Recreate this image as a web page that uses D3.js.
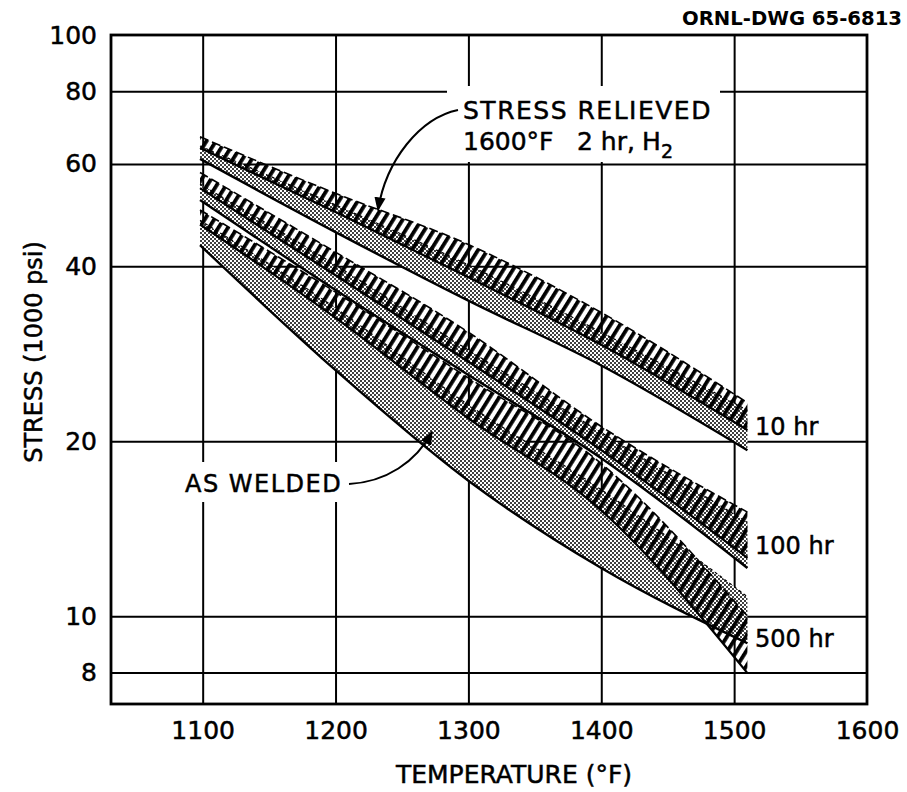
<!DOCTYPE html>
<html>
<head>
<meta charset="utf-8">
<script src="https://cdn.jsdelivr.net/npm/d3@7"></script>
<style>
body { margin: 0; background: #fff; }
svg text { font-family: "DejaVu Sans", sans-serif; fill: #000; stroke: #000; stroke-width: 0.5px; }
</style>
</head>
<body>
<script>
// stress (1000 psi), at these temperatures (F)
var temps = [1098, 1200, 1300, 1400, 1510];

// 10 hr
var sr10Hi = [66.8, 53.4, 43.6, 33.3, 23.3];
var sr10Lo = [63.9, 49.6, 38.3, 29.3, 20.9];
var aw10Hi = [64.4, 51.0, 40.2, 30.8, 22.6];
var aw10Lo = [61.2, 45.8, 34.9, 27.0, 19.3];
// 100 hr
var sr100Hi = [58.0, 42.3, 30.8, 21.2, 15.1];
var sr100Lo = [54.5, 38.6, 27.4, 19.3, 12.6];
var aw100Hi = [55.4, 40.2, 28.7, 20.7, 14.5];
var aw100Lo = [52.0, 36.4, 26.0, 18.7, 12.1];
// 500 hr
var sr500Hi = [50.0, 36.1, 25.7, 18.3, 10.0];
var sr500Lo = [47.2, 32.6, 21.9, 15.2, 7.98];
var aw500Hi = [48.0, 33.9, 23.1, 16.5, 10.8];
var aw500Lo = [43.5, 26.5, 17.1, 12.1, 8.98];

var groupNames = ["10 hr", "100 hr", "500 hr"];
var xTicks = [1100, 1200, 1300, 1400, 1500, 1600];
var yTicks = [8, 10, 20, 40, 60, 80, 100];
var xGrid = [1100, 1200, 1300, 1400, 1500];
var yGrid = [8, 10, 20, 40, 60, 80];

var W = 907, H = 792;
var plotL = 111, plotR = 867, plotT = 35, plotB = 704;

var x = d3.scaleLinear().domain([1031, 1600]).range([plotL, plotR]);
var y = d3.scaleLog().domain([7.06, 100]).range([plotB, plotT]);

var svg = d3.select("body").append("svg")
    .attr("width", W)
    .attr("height", H);

var defs = svg.append("defs");

// diagonal hatching = stress relieved
var hatch = defs.append("pattern")
    .attr("id", "hatch")
    .attr("patternUnits", "userSpaceOnUse")
    .attr("width", 8)
    .attr("height", 10)
    .attr("patternTransform", "rotate(32)");
hatch.append("rect")
    .attr("width", 3.8)
    .attr("height", 10)
    .attr("fill", "#000");

// stipple = as welded
var dots = defs.append("pattern")
    .attr("id", "dots")
    .attr("patternUnits", "userSpaceOnUse")
    .attr("width", 4)
    .attr("height", 4);
dots.append("rect").attr("width", 4).attr("height", 4).attr("fill", "#fff");
dots.append("circle").attr("cx", 1).attr("cy", 1).attr("r", 1).attr("fill", "#000");
dots.append("circle").attr("cx", 3).attr("cy", 3).attr("r", 1).attr("fill", "#000");

defs.append("marker")
    .attr("id", "head")
    .attr("viewBox", "0 0 10 10")
    .attr("refX", 9)
    .attr("refY", 5)
    .attr("markerWidth", 14)
    .attr("markerHeight", 14)
    .attr("markerUnits", "userSpaceOnUse")
    .attr("orient", "auto")
  .append("path")
    .attr("d", "M0,1 L10,5 L0,9 Z")
    .attr("fill", "#000");

// grid
svg.append("g")
    .attr("transform", "translate(" + plotL + ",0)")
    .call(d3.axisLeft(y).tickValues(yGrid).tickSize(-(plotR - plotL)).tickFormat(""))
    .call(function(g) { g.select(".domain").remove(); })
    .selectAll("line")
    .attr("stroke", "#000")
    .attr("stroke-width", 2);

svg.append("g")
    .attr("transform", "translate(0," + plotB + ")")
    .call(d3.axisBottom(x).tickValues(xGrid).tickSize(-(plotB - plotT)).tickFormat(""))
    .call(function(g) { g.select(".domain").remove(); })
    .selectAll("line")
    .attr("stroke", "#000")
    .attr("stroke-width", 2);

// white boxes where the lettering cuts the grid
svg.append("rect").attr("x", 447).attr("y", 86).attr("width", 273).attr("height", 76).attr("fill", "#fff");
svg.append("rect").attr("x", 178).attr("y", 462).attr("width", 174).attr("height", 40).attr("fill", "#fff");

// frame
svg.append("rect")
    .attr("x", plotL)
    .attr("y", plotT)
    .attr("width", plotR - plotL)
    .attr("height", plotB - plotT)
    .attr("fill", "none")
    .attr("stroke", "#000")
    .attr("stroke-width", 2.8);

// bands
function rows(hi, lo) {
  return temps.map(function(t, i) { return {t: t, hi: hi[i], lo: lo[i]}; });
}
var groups = [
  {name: groupNames[0], sr: rows(sr10Hi, sr10Lo), aw: rows(aw10Hi, aw10Lo)},
  {name: groupNames[1], sr: rows(sr100Hi, sr100Lo), aw: rows(aw100Hi, aw100Lo)},
  {name: groupNames[2], sr: rows(sr500Hi, sr500Lo), aw: rows(aw500Hi, aw500Lo)}
];

var area = d3.area()
    .x(function(d) { return x(d.t); })
    .y0(function(d) { return y(d.lo); })
    .y1(function(d) { return y(d.hi); })
    .curve(d3.curveMonotoneX);
var hiLine = d3.line()
    .x(function(d) { return x(d.t); })
    .y(function(d) { return y(d.hi); })
    .curve(d3.curveMonotoneX);
var loLine = d3.line()
    .x(function(d) { return x(d.t); })
    .y(function(d) { return y(d.lo); })
    .curve(d3.curveMonotoneX);

var band = svg.append("g").selectAll("g")
    .data(groups)
  .enter().append("g");

band.append("path")
    .attr("d", function(d) { return area(d.aw); })
    .attr("fill", "url(#dots)");
band.append("path")
    .attr("d", function(d) { return area(d.sr); })
    .attr("fill", "url(#hatch)");
band.append("path")
    .attr("d", function(d) { return hiLine(d.aw); })
    .attr("fill", "none")
    .attr("stroke", "#000")
    .attr("stroke-width", 1.2)
    .attr("stroke-dasharray", "3,3");
band.append("path")
    .attr("d", function(d) { return loLine(d.aw); })
    .attr("fill", "none")
    .attr("stroke", "#000")
    .attr("stroke-width", 2.4);
band.append("path")
    .attr("d", function(d) { return hiLine(d.sr); })
    .attr("fill", "none")
    .attr("stroke", "#000")
    .attr("stroke-width", 1.6)
    .attr("stroke-dasharray", "9,4");
band.append("path")
    .attr("d", function(d) { return loLine(d.sr); })
    .attr("fill", "none")
    .attr("stroke", "#000")
    .attr("stroke-width", 2.2);

// curve labels at right end
var labelY = [435, 554, 647];
svg.append("g").selectAll("text")
    .data(groups)
  .enter().append("text")
    .attr("x", 755)
    .attr("y", function(d, i) { return labelY[i]; })
    .style("font-size", "24px")
    .text(function(d) { return d.name; });

// axes labels
var yAxis = svg.append("g")
    .attr("transform", "translate(" + plotL + ",0)")
    .call(d3.axisLeft(y).tickValues(yTicks).tickSize(0).tickPadding(14).tickFormat(d3.format("d")));
yAxis.select(".domain").remove();
yAxis.selectAll("text")
    .style("font-size", "25px")
    .style("font-family", "'DejaVu Sans', sans-serif");

var xAxis = svg.append("g")
    .attr("transform", "translate(0," + plotB + ")")
    .call(d3.axisBottom(x).tickValues(xTicks).tickSize(0).tickPadding(17).tickFormat(d3.format("d")));
xAxis.select(".domain").remove();
xAxis.selectAll("text")
    .style("font-size", "25px")
    .style("font-family", "'DejaVu Sans', sans-serif");

svg.append("text")
    .attr("x", 514)
    .attr("y", 783)
    .attr("text-anchor", "middle")
    .style("font-size", "25px")
    .text("TEMPERATURE (°F)");

svg.append("text")
    .attr("transform", "translate(42,352) rotate(-90)")
    .attr("text-anchor", "middle")
    .style("font-size", "24px")
    .text("STRESS (1000 psi)");

svg.append("text")
    .attr("x", 902)
    .attr("y", 25)
    .attr("text-anchor", "end")
    .attr("textLength", 220)
    .attr("lengthAdjust", "spacingAndGlyphs")
    .style("font-size", "19px")
    .style("font-weight", "bold")
    .style("stroke-width", "0")
    .text("ORNL-DWG 65-6813");

// annotations
svg.append("text")
    .attr("x", 463)
    .attr("y", 119)
    .style("font-size", "25px")
    .style("letter-spacing", "1.5px")
    .text("STRESS RELIEVED");

var note = svg.append("text")
    .attr("y", 150)
    .style("font-size", "25px");
note.append("tspan").attr("x", 463).text("1600°F");
note.append("tspan").attr("x", 577).text("2 hr,");
note.append("tspan").attr("x", 642).text("H");
note.append("tspan").attr("x", 661).attr("dy", 8).style("font-size", "19px").text("2");

svg.append("text")
    .attr("x", 185)
    .attr("y", 492)
    .style("font-size", "24px")
    .style("letter-spacing", "1.5px")
    .text("AS WELDED");

svg.append("path")
    .attr("d", "M458,110 C420,118 386,160 378,210")
    .attr("fill", "none")
    .attr("stroke", "#000")
    .attr("stroke-width", 2)
    .attr("marker-end", "url(#head)");

svg.append("path")
    .attr("d", "M349,484 C386,482 416,462 432,432")
    .attr("fill", "none")
    .attr("stroke", "#000")
    .attr("stroke-width", 2)
    .attr("marker-end", "url(#head)");
</script>
</body>
</html>
